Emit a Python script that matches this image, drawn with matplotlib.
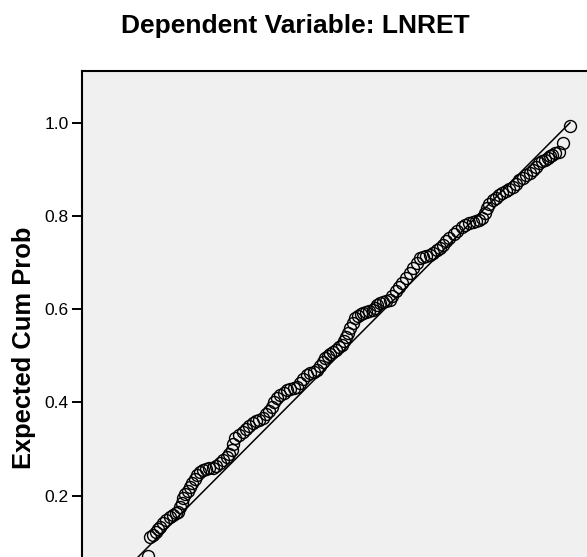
import matplotlib
matplotlib.use("Agg")
import matplotlib.pyplot as plt

# Normal P-P plot of regression standardized residual
observed_cum_prob = [
    0.089, 0.094, 0.100, 0.106, 0.111, 0.115, 0.122, 0.129, 0.137, 0.143,
    0.149, 0.154, 0.158, 0.162, 0.165, 0.170, 0.175, 0.180, 0.185, 0.190,
    0.195, 0.201, 0.208, 0.215, 0.222, 0.230, 0.237, 0.245, 0.252, 0.260,
    0.265, 0.270, 0.273, 0.277, 0.285, 0.294, 0.301, 0.308, 0.316, 0.323,
    0.330, 0.337, 0.344, 0.350, 0.357, 0.362, 0.367, 0.374, 0.382, 0.389,
    0.396, 0.404, 0.411, 0.418, 0.425, 0.432, 0.439, 0.447, 0.454, 0.460,
    0.466, 0.471, 0.477, 0.483, 0.488, 0.495, 0.502, 0.508, 0.512, 0.516,
    0.520, 0.525, 0.531, 0.536, 0.542, 0.548, 0.553, 0.560, 0.567, 0.574,
    0.579, 0.584, 0.589, 0.596, 0.604, 0.611, 0.617, 0.624, 0.630, 0.638,
    0.646, 0.654, 0.661, 0.669, 0.676, 0.683, 0.690, 0.697, 0.704, 0.712,
    0.719, 0.726, 0.733, 0.740, 0.749, 0.757, 0.766, 0.774, 0.782, 0.790,
    0.797, 0.804, 0.811, 0.816, 0.820, 0.826, 0.833, 0.840, 0.847, 0.854,
    0.861, 0.868, 0.876, 0.883, 0.891, 0.898, 0.906, 0.913, 0.920, 0.927,
    0.934, 0.940, 0.946, 0.952, 0.957, 0.962, 0.967, 0.977, 0.984, 0.999,
]
expected_cum_prob = [
    0.070, 0.111, 0.116, 0.122, 0.128, 0.133, 0.140, 0.147, 0.154, 0.158,
    0.162, 0.165, 0.175, 0.185, 0.195, 0.203, 0.210, 0.218, 0.227, 0.236,
    0.244, 0.250, 0.255, 0.257, 0.258, 0.259, 0.264, 0.270, 0.276, 0.283,
    0.290, 0.298, 0.310, 0.323, 0.330, 0.336, 0.342, 0.349, 0.355, 0.359,
    0.363, 0.366, 0.374, 0.382, 0.390, 0.400, 0.409, 0.415, 0.421, 0.426,
    0.428, 0.431, 0.433, 0.441, 0.450, 0.458, 0.462, 0.466, 0.469, 0.478,
    0.487, 0.495, 0.500, 0.504, 0.508, 0.513, 0.518, 0.523, 0.532, 0.540,
    0.549, 0.560, 0.571, 0.581, 0.585, 0.589, 0.592, 0.594, 0.596, 0.598,
    0.603, 0.608, 0.613, 0.616, 0.618, 0.620, 0.629, 0.638, 0.647, 0.657,
    0.667, 0.677, 0.688, 0.698, 0.709, 0.711, 0.714, 0.716, 0.721, 0.726,
    0.731, 0.738, 0.746, 0.753, 0.761, 0.768, 0.776, 0.780, 0.784, 0.787,
    0.790, 0.792, 0.795, 0.806, 0.817, 0.825, 0.834, 0.839, 0.844, 0.849,
    0.853, 0.858, 0.862, 0.869, 0.877, 0.882, 0.887, 0.892, 0.899, 0.906,
    0.913, 0.917, 0.920, 0.924, 0.928, 0.931, 0.935, 0.937, 0.957, 0.994,
]
yticks = [0.2, 0.4, 0.6, 0.8, 1.0]

plt.rcParams['font.family'] = ['Liberation Sans', 'DejaVu Sans']

fig = plt.figure(figsize=(5.87, 5.57), dpi=100)
# the picture is a crop: the lower and right parts of the frame fall outside it
ax = fig.add_axes([0.1397, -0.1503, 0.8731, 1.0233])
ax.set_facecolor('#f0f0f0')

ax.plot([0, 1], [0, 1], color='black', linewidth=1.1, zorder=2)
ax.plot(observed_cum_prob, expected_cum_prob, linestyle='none', marker='o',
        markersize=8.6, markerfacecolor='none', markeredgecolor='black',
        markeredgewidth=1.0, zorder=3)

ax.set_xlim(-0.0529, 1.0529)
ax.set_ylim(-0.1116, 1.1116)
ax.set_yticks(yticks)
ax.set_yticklabels([f"{t:.1f}" for t in yticks])
ax.set_xticks([])
ax.tick_params(axis='y', direction='out', length=7.5, width=1.4, pad=2.2,
               labelsize=12.5, color='black')
for sp in ax.spines.values():
    sp.set_linewidth(1.5)
    sp.set_color('black')

fig.text(0.5034, 1 - 33 / 557, "Dependent Variable: LNRET", ha='center',
         va='baseline', fontsize=19, fontweight='bold')
fig.text(24.3 / 587, 1 - 348 / 557, "Expected Cum Prob", rotation=90,
         ha='center', va='center', fontsize=18.4, fontweight='bold')

fig.savefig("out.png", dpi=100)
